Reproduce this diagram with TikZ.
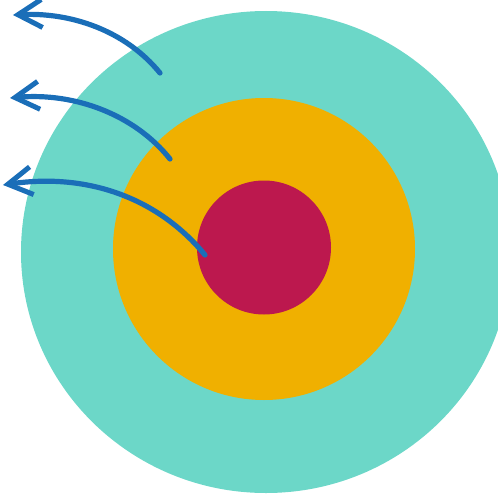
\documentclass[tikz,border=0pt]{standalone}
\usetikzlibrary{arrows.meta}
\definecolor{tealc}{RGB}{108,215,200}
\definecolor{orangec}{RGB}{240,176,0}
\definecolor{redc}{RGB}{188,24,78}
\definecolor{bluec}{RGB}{26,110,184}
\tikzset{
  ring/.style={draw=none},
  pointer/.style={draw=bluec, line width=5.2pt, line cap=round,
    -{Straight Barb[length=24pt,width=28pt,line width=5pt]}}
}
\begin{document}
\begin{tikzpicture}[x=1pt,y=-1pt]
\useasboundingbox (0,0) rectangle (498,495);
\clip (0,0) rectangle (498,495);
% outer teal shape
\fill[tealc] (266,252) ellipse [x radius=245, y radius=241];
\node[ring, circle, fill=orangec, minimum size=302pt, inner sep=0pt] (middle) at (264,249) {};
\node[ring, circle, fill=redc, minimum size=134pt, inner sep=0pt] (inner) at (264,247.5) {};
% arrows
\coordinate (s1) at (160,73);  \coordinate (e1) at (13,15);
\coordinate (s2) at (170,159); \coordinate (e2) at (10,98);
\coordinate (s3) at (205,255); \coordinate (e3) at (3,185);
\draw[pointer] (s1) .. controls (125,30) and (70,12) .. (e1);
\draw[pointer] (s2) .. controls (135,115) and (75,92) .. (e2);
\draw[pointer] (s3) .. controls (160,200) and (90,172) .. (e3);
\end{tikzpicture}
\end{document}
